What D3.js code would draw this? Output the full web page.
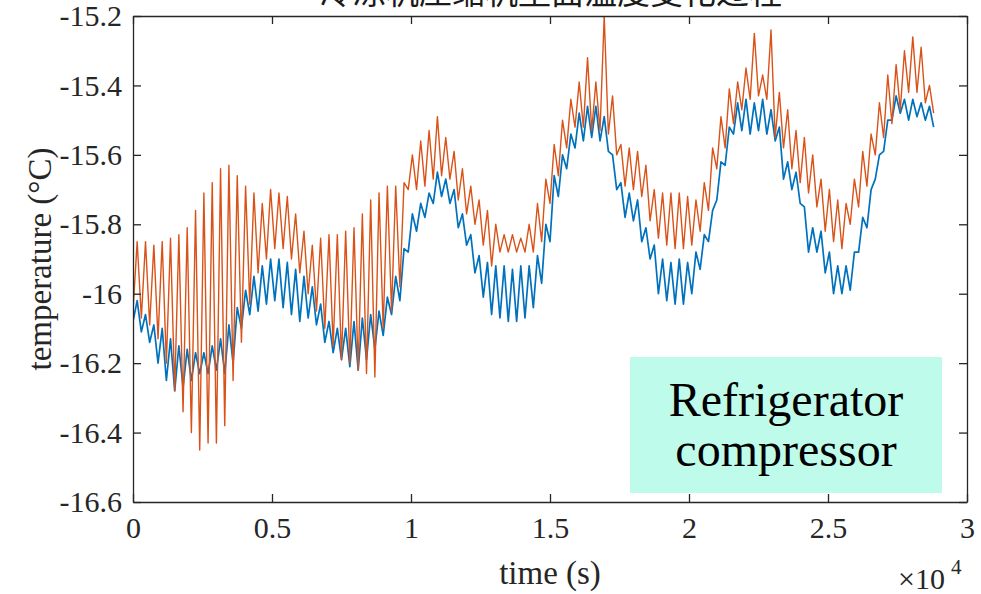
<!DOCTYPE html>
<html>
<head>
<meta charset="utf-8">
<script src="https://cdn.jsdelivr.net/npm/d3@7"></script>
<style>
  html, body { margin: 0; padding: 0; background: #ffffff; }
  svg { display: block; }
</style>
</head>
<body>
<script>
// ---------------- data ----------------
const chartTitle = "冷冻机压缩机壁面温度变化过程";
const xLabel = "time (s)";
const yLabel = "temperature (°C)";
const boxLines = ["Refrigerator", "compressor"];

const xTickValues = [0, 5000, 10000, 15000, 20000, 25000, 30000];
const xTickLabels = ["0", "0.5", "1", "1.5", "2", "2.5", "3"];
const yTickValues = [-16.6, -16.4, -16.2, -16.0, -15.8, -15.6, -15.4, -15.2];
const yTickLabels = ["-16.6", "-16.4", "-16.2", "-16", "-15.8", "-15.6", "-15.4", "-15.2"];

// sampling times (s)
const timeS = [
  0,150,300,450,600,750,900,1050,1200,1350,
  1500,1650,1800,1950,2100,2250,2400,2550,2700,2850,
  3000,3150,3300,3450,3600,3750,3900,4050,4200,4350,
  4500,4650,4800,4950,5100,5250,5400,5550,5700,5850,
  6000,6150,6300,6450,6600,6750,6900,7050,7200,7350,
  7500,7650,7800,7950,8100,8250,8400,8550,8700,8850,
  9000,9150,9300,9450,9600,9750,9900,10050,10200,10350,
  10500,10650,10800,10950,11100,11250,11400,11550,11700,11850,
  12000,12150,12300,12450,12600,12750,12900,13050,13200,13350,
  13500,13650,13800,13950,14100,14250,14400,14550,14700,14850,
  15000,15150,15300,15450,15600,15750,15900,16050,16200,16350,
  16500,16650,16800,16950,17100,17250,17400,17550,17700,17850,
  18000,18150,18300,18450,18600,18750,18900,19050,19200,19350,
  19500,19650,19800,19950,20100,20250,20400,20550,20700,20850,
  21000,21150,21300,21450,21600,21750,21900,22050,22200,22350,
  22500,22650,22800,22950,23100,23250,23400,23550,23700,23850,
  24000,24150,24300,24450,24600,24750,24900,25050,25200,25350,
  25500,25650,25800,25950,26100,26250,26400,26550,26700,26850,
  27000,27150,27300,27450,27600,27750,27900,28050,28200,28350,
  28500,28650,28800
];

// orange series (°C)
const tempOrange = [
  -16.05,-15.85,-16.07,-15.85,-16.09,-15.86,-16.13,-15.85,-16.20,-15.84,
  -16.28,-15.83,-16.34,-15.81,-16.40,-15.76,-16.45,-15.71,-16.43,-15.68,
  -16.43,-15.64,-16.38,-15.63,-16.25,-15.66,-16.14,-15.69,-16.03,-15.71,
  -15.94,-15.74,-15.90,-15.70,-15.87,-15.71,-15.87,-15.72,-15.90,-15.77,
  -15.94,-15.82,-16.00,-15.86,-16.05,-15.84,-16.10,-15.83,-16.15,-15.83,
  -16.19,-15.82,-16.20,-15.81,-16.22,-15.77,-16.23,-15.73,-16.24,-15.71,
  -16.10,-15.69,-16.05,-15.69,-15.98,-15.68,-15.70,-15.60,-15.70,-15.56,
  -15.69,-15.53,-15.67,-15.49,-15.66,-15.55,-15.67,-15.59,-15.73,-15.64,
  -15.77,-15.69,-15.80,-15.73,-15.86,-15.76,-15.92,-15.80,-15.88,-15.83,
  -15.88,-15.83,-15.88,-15.84,-15.88,-15.80,-15.88,-15.74,-15.85,-15.67,
  -15.74,-15.57,-15.66,-15.50,-15.58,-15.44,-15.52,-15.39,-15.52,-15.32,
  -15.53,-15.39,-15.53,-15.20,-15.54,-15.43,-15.60,-15.57,-15.69,-15.58,
  -15.70,-15.59,-15.72,-15.63,-15.79,-15.70,-15.84,-15.71,-15.86,-15.71,
  -15.87,-15.71,-15.87,-15.72,-15.86,-15.73,-15.82,-15.68,-15.76,-15.58,
  -15.64,-15.49,-15.58,-15.41,-15.51,-15.39,-15.47,-15.35,-15.44,-15.25,
  -15.43,-15.37,-15.44,-15.24,-15.55,-15.42,-15.58,-15.47,-15.64,-15.53,
  -15.68,-15.55,-15.71,-15.60,-15.75,-15.67,-15.82,-15.70,-15.85,-15.73,
  -15.87,-15.74,-15.80,-15.67,-15.75,-15.59,-15.69,-15.54,-15.60,-15.45,
  -15.55,-15.37,-15.51,-15.34,-15.47,-15.30,-15.42,-15.26,-15.42,-15.29,
  -15.45,-15.40,-15.48
];

// blue series (°C)
const tempBlue = [
  -16.08,-16.02,-16.11,-16.06,-16.14,-16.09,-16.20,-16.10,-16.25,-16.13,
  -16.28,-16.15,-16.27,-16.16,-16.25,-16.17,-16.23,-16.17,-16.23,-16.15,
  -16.22,-16.13,-16.23,-16.09,-16.20,-16.04,-16.10,-15.99,-16.06,-15.95,
  -16.05,-15.92,-16.03,-15.90,-16.02,-15.90,-16.04,-15.91,-16.06,-15.93,
  -16.08,-15.95,-16.07,-15.98,-16.09,-16.03,-16.14,-16.08,-16.17,-16.10,
  -16.19,-16.10,-16.21,-16.08,-16.22,-16.07,-16.19,-16.06,-16.16,-16.05,
  -16.12,-16.01,-16.06,-15.95,-16.02,-15.87,-15.88,-15.77,-15.82,-15.74,
  -15.78,-15.71,-15.74,-15.65,-15.72,-15.67,-15.74,-15.70,-15.81,-15.77,
  -15.86,-15.83,-15.94,-15.89,-16.01,-15.91,-16.06,-15.92,-16.07,-15.92,
  -16.08,-15.93,-16.08,-15.92,-16.07,-15.92,-16.04,-15.89,-15.97,-15.80,
  -15.85,-15.66,-15.72,-15.60,-15.64,-15.54,-15.58,-15.48,-15.56,-15.46,
  -15.55,-15.46,-15.56,-15.49,-15.59,-15.60,-15.70,-15.68,-15.78,-15.71,
  -15.79,-15.73,-15.85,-15.81,-15.90,-15.86,-16.00,-15.90,-16.02,-15.91,
  -16.03,-15.90,-16.03,-15.91,-16.00,-15.88,-15.93,-15.83,-15.85,-15.76,
  -15.73,-15.62,-15.63,-15.52,-15.54,-15.45,-15.53,-15.44,-15.54,-15.45,
  -15.53,-15.44,-15.54,-15.47,-15.56,-15.52,-15.67,-15.62,-15.70,-15.65,
  -15.74,-15.75,-15.88,-15.81,-15.88,-15.82,-15.94,-15.88,-16.00,-15.92,
  -16.00,-15.92,-15.99,-15.88,-15.88,-15.78,-15.81,-15.70,-15.67,-15.60,
  -15.59,-15.50,-15.50,-15.43,-15.48,-15.44,-15.50,-15.44,-15.49,-15.45,
  -15.50,-15.46,-15.52
];

const colorBlue = "#0072BD";
const colorOrange = "#D95319";

// ---------------- layout ----------------
const W = 981, H = 594;
const plot = { left: 133, right: 967, top: 16, bottom: 502 };
const axisColor = "#262626";
const serif = '"Liberation Serif", "Times New Roman", serif';

const svg = d3.select("body").append("svg")
  .attr("width", W).attr("height", H)
  .attr("viewBox", `0 0 ${W} ${H}`);

svg.append("rect").attr("width", W).attr("height", H).attr("fill", "#ffffff");

const x = d3.scaleLinear().domain([0, 30000]).range([plot.left, plot.right]);
const y = d3.scaleLinear().domain([-16.6, -15.2]).range([plot.bottom, plot.top]);

// title (cut by top edge like the reference)
svg.append("text")
  .attr("x", (plot.left + plot.right) / 2 + 1)
  .attr("y", 4)
  .attr("text-anchor", "middle")
  .attr("font-family", '"Noto Sans CJK SC", sans-serif')
  .attr("font-size", 33)
  .attr("fill", "#1a1a1a")
  .text(chartTitle);

// clip
svg.append("clipPath").attr("id", "clip")
  .append("rect")
  .attr("x", plot.left).attr("y", plot.top)
  .attr("width", plot.right - plot.left).attr("height", plot.bottom - plot.top);

// lines
const line = d3.line()
  .x((d, i) => x(timeS[i]))
  .y(d => y(d));

const gLines = svg.append("g").attr("clip-path", "url(#clip)");
gLines.append("path")
  .attr("d", line(tempBlue))
  .attr("fill", "none")
  .attr("stroke", colorBlue)
  .attr("stroke-width", 1.7)
  .attr("stroke-linejoin", "round");
gLines.append("path")
  .attr("d", line(tempOrange))
  .attr("fill", "none")
  .attr("stroke", colorOrange)
  .attr("stroke-width", 1.4)
  .attr("stroke-linejoin", "round");

// axes
function styleAxis(g) {
  g.selectAll("path.domain").attr("stroke", axisColor).attr("stroke-width", 1.3);
  g.selectAll(".tick line").attr("stroke", axisColor).attr("stroke-width", 1.3);
  g.selectAll(".tick text")
    .attr("fill", axisColor)
    .attr("font-family", serif)
    .attr("font-size", 30);
}

svg.append("g")
  .attr("transform", `translate(0,${plot.bottom})`)
  .call(d3.axisBottom(x).tickValues(xTickValues)
    .tickFormat((d, i) => xTickLabels[i])
    .tickSize(-8).tickSizeOuter(0).tickPadding(15))
  .call(styleAxis);

svg.append("g")
  .attr("transform", `translate(0,${plot.top})`)
  .call(d3.axisTop(x).tickValues(xTickValues).tickFormat("")
    .tickSize(-8).tickSizeOuter(0))
  .call(styleAxis);

svg.append("g")
  .attr("transform", `translate(${plot.left},0)`)
  .call(d3.axisLeft(y).tickValues(yTickValues)
    .tickFormat((d, i) => yTickLabels[i])
    .tickSize(-8).tickSizeOuter(0).tickPadding(11))
  .call(styleAxis);

svg.append("g")
  .attr("transform", `translate(${plot.right},0)`)
  .call(d3.axisRight(y).tickValues(yTickValues).tickFormat("")
    .tickSize(-8).tickSizeOuter(0))
  .call(styleAxis);

// axis labels
svg.append("text")
  .attr("x", (plot.left + plot.right) / 2)
  .attr("y", 584)
  .attr("text-anchor", "middle")
  .attr("font-family", serif)
  .attr("font-size", 33)
  .attr("fill", axisColor)
  .text(xLabel);

svg.append("text")
  .attr("transform", `translate(51,${(plot.top + plot.bottom) / 2}) rotate(-90)`)
  .attr("text-anchor", "middle")
  .attr("font-family", serif)
  .attr("font-size", 33)
  .attr("fill", axisColor)
  .text(yLabel);

// exponent
svg.append("text")
  .attr("x", 898).attr("y", 589)
  .attr("font-family", serif)
  .attr("font-size", 30)
  .attr("fill", axisColor)
  .text("×10");
svg.append("text")
  .attr("x", 951).attr("y", 574)
  .attr("font-family", serif)
  .attr("font-size", 21)
  .attr("fill", axisColor)
  .text("4");

// annotation box
svg.append("rect")
  .attr("x", 630).attr("y", 357)
  .attr("width", 312).attr("height", 136)
  .attr("fill", "#BFFBEB");
svg.append("text")
  .attr("x", 786).attr("y", 416)
  .attr("text-anchor", "middle")
  .attr("font-family", serif)
  .attr("font-size", 48)
  .attr("fill", "#000000")
  .text(boxLines[0]);
svg.append("text")
  .attr("x", 786).attr("y", 466)
  .attr("text-anchor", "middle")
  .attr("font-family", serif)
  .attr("font-size", 48)
  .attr("fill", "#000000")
  .text(boxLines[1]);
</script>
</body>
</html>
